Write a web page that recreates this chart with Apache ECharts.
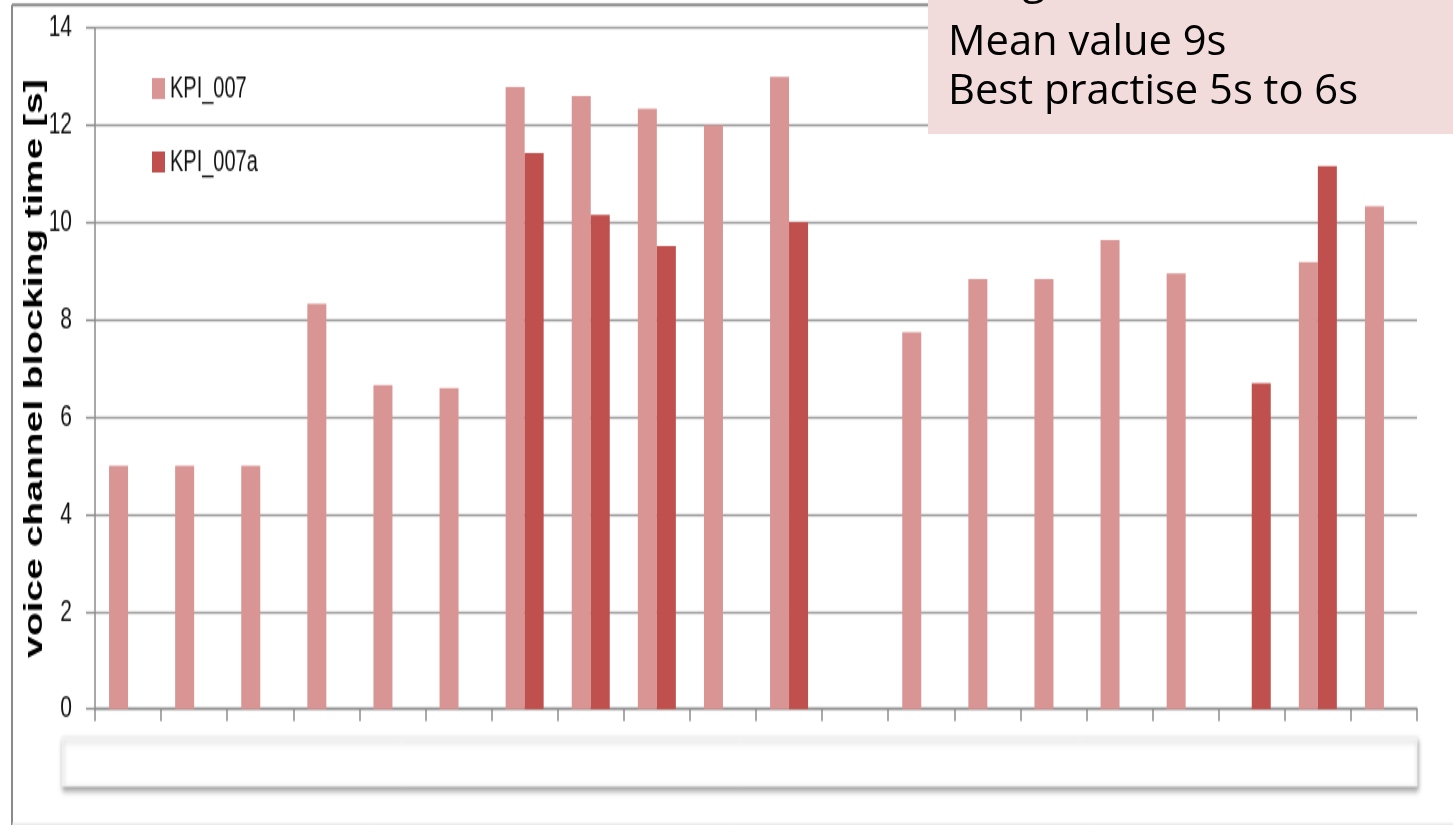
<!DOCTYPE html>
<html>
<head>
<meta charset="utf-8">
<script src="https://cdn.jsdelivr.net/npm/echarts@6/dist/echarts.min.js"></script>
<style>
  html, body { margin: 0; padding: 0; background: #ffffff; overflow: hidden; }
  #wrap { position: relative; width: 1453px; height: 825px; }
  /* the chart is laid out at 2/3 height and stretched vertically */
  #chart { position: absolute; left: 0; top: 0; width: 1453px; height: 550px;
           transform: scaleY(1.5); transform-origin: 0 0; }
  #note { position: absolute; left: 0; top: 0; width: 1453px; height: 825px; pointer-events: none; }
</style>
</head>
<body>
<div id="wrap">
  <div id="chart"></div>
  <div id="note"></div>
</div>
<script>
// Measurement points along the category axis (labels are not displayed)
const categories = ['1','2','3','4','5','6','7','8','9','10','11','12','13','14','15','16','17','18','19','20'];

// Voice channel blocking time in seconds
const kpi007  = [5, 5, 5, 8.33, 6.66, 6.6, 12.79, 12.6, 12.34, 12.0, 13.0, null, 7.75, 8.84, 8.84, 9.64, 8.96, null, 9.19, 10.34];
const kpi007a = [null, null, null, null, null, null, 11.43, 10.16, 9.52, null, 10.01, null, null, null, null, null, null, 6.7, 11.16, null];

const seriesNames = ['KPI_007', 'KPI_007a'];
const yTicks = { min: 0, max: 14, interval: 2 };

const noteLines = ['Range 5s to 13s', 'Mean value 9s', 'Best practise 5s to 6s'];

const labelFont = "'Liberation Sans', Arial, sans-serif";
const noteFont = "'Open Sans', 'Noto Sans', sans-serif";

const chart = echarts.init(document.getElementById('chart'), null, { renderer: 'canvas' });

chart.setOption({
  animation: false,
  backgroundColor: '#ffffff',
  grid: { left: 95, right: 36, top: 18.7, bottom: 77.3, containLabel: false },
  legend: {
    orient: 'vertical',
    left: 147,
    top: 44,
    itemWidth: 13,
    itemHeight: 14,
    itemGap: 29,
    icon: 'rect',
    data: seriesNames,
    textStyle: { fontFamily: labelFont, fontSize: 20, color: '#111111', lineHeight: 14 }
  },
  xAxis: {
    type: 'category',
    data: categories,
    boundaryGap: true,
    axisLine: { show: true, lineStyle: { color: '#8c8c8c', width: 1.4 } },
    axisTick: { show: true, length: 8, lineStyle: { color: '#8c8c8c', width: 1.5 } },
    axisLabel: { show: false },
    splitLine: { show: false }
  },
  yAxis: {
    type: 'value',
    min: yTicks.min,
    max: yTicks.max,
    interval: yTicks.interval,
    name: 'voice channel blocking time [s]',
    nameLocation: 'middle',
    nameRotate: 90,
    nameGap: 47,
    nameMoveOverlap: false,
    nameTextStyle: { fontFamily: labelFont, fontWeight: 'bold', fontSize: 26, color: '#000000' },
    axisLine: { show: true, lineStyle: { color: '#8c8c8c', width: 1.5 } },
    axisTick: { show: true, length: 9, lineStyle: { color: '#8c8c8c', width: 1.4 } },
    axisLabel: { fontFamily: labelFont, fontSize: 21, color: '#111111', margin: 23 },
    splitLine: { show: true, lineStyle: { color: '#9a9a9a', width: 1.4 } }
  },
  series: [
    {
      name: seriesNames[0],
      type: 'bar',
      data: kpi007,
      barWidth: 19,
      barGap: '0%',
      itemStyle: { color: '#d99594' }
    },
    {
      name: seriesNames[1],
      type: 'bar',
      data: kpi007a,
      barWidth: 19,
      barGap: '0%',
      itemStyle: { color: '#c0504d' }
    }
  ],
  graphic: [
    // outer chart frame
    { type: 'line', z: 1, shape: { x1: 12, y1: 3.3, x2: 12, y2: 550 }, style: { stroke: '#8a8a8a', lineWidth: 2 } },
    { type: 'line', z: 1, shape: { x1: 12, y1: 3.3, x2: 1453, y2: 3.3 }, style: { stroke: '#8a8a8a', lineWidth: 2 } },
    { type: 'line', z: 1, shape: { x1: 12, y1: 549.2, x2: 1453, y2: 549.2 }, style: { stroke: '#e4e4e4', lineWidth: 1 } },
    // empty label panel below the category axis
    {
      type: 'rect', z: 1,
      shape: { x: 62, y: 491.3, width: 1355, height: 32.7 },
      style: {
        fill: '#ffffff', stroke: '#f0f0f0', lineWidth: 1,
        shadowBlur: 4, shadowOffsetX: 1, shadowOffsetY: 2.7, shadowColor: 'rgba(0,0,0,0.35)'
      }
    }
  ]
});

// annotation box drawn on its own unstretched layer
const note = echarts.init(document.getElementById('note'), null, { renderer: 'canvas' });
note.setOption({
  animation: false,
  graphic: [
    { type: 'rect', z: 10, shape: { x: 928, y: 0, width: 525, height: 134 }, style: { fill: '#f2dcdb' } },
    { type: 'text', z: 11, x: 948, y: -39, style: { text: noteLines[0], font: '41.7px ' + noteFont, fill: '#000000', verticalAlign: 'top' } },
    { type: 'text', z: 11, x: 948, y: 22,  style: { text: noteLines[1], font: '41.7px ' + noteFont, fill: '#000000', verticalAlign: 'top' } },
    { type: 'text', z: 11, x: 948, y: 71,  style: { text: noteLines[2], font: '41.7px ' + noteFont, fill: '#000000', verticalAlign: 'top' } }
  ]
});
</script>
</body>
</html>
